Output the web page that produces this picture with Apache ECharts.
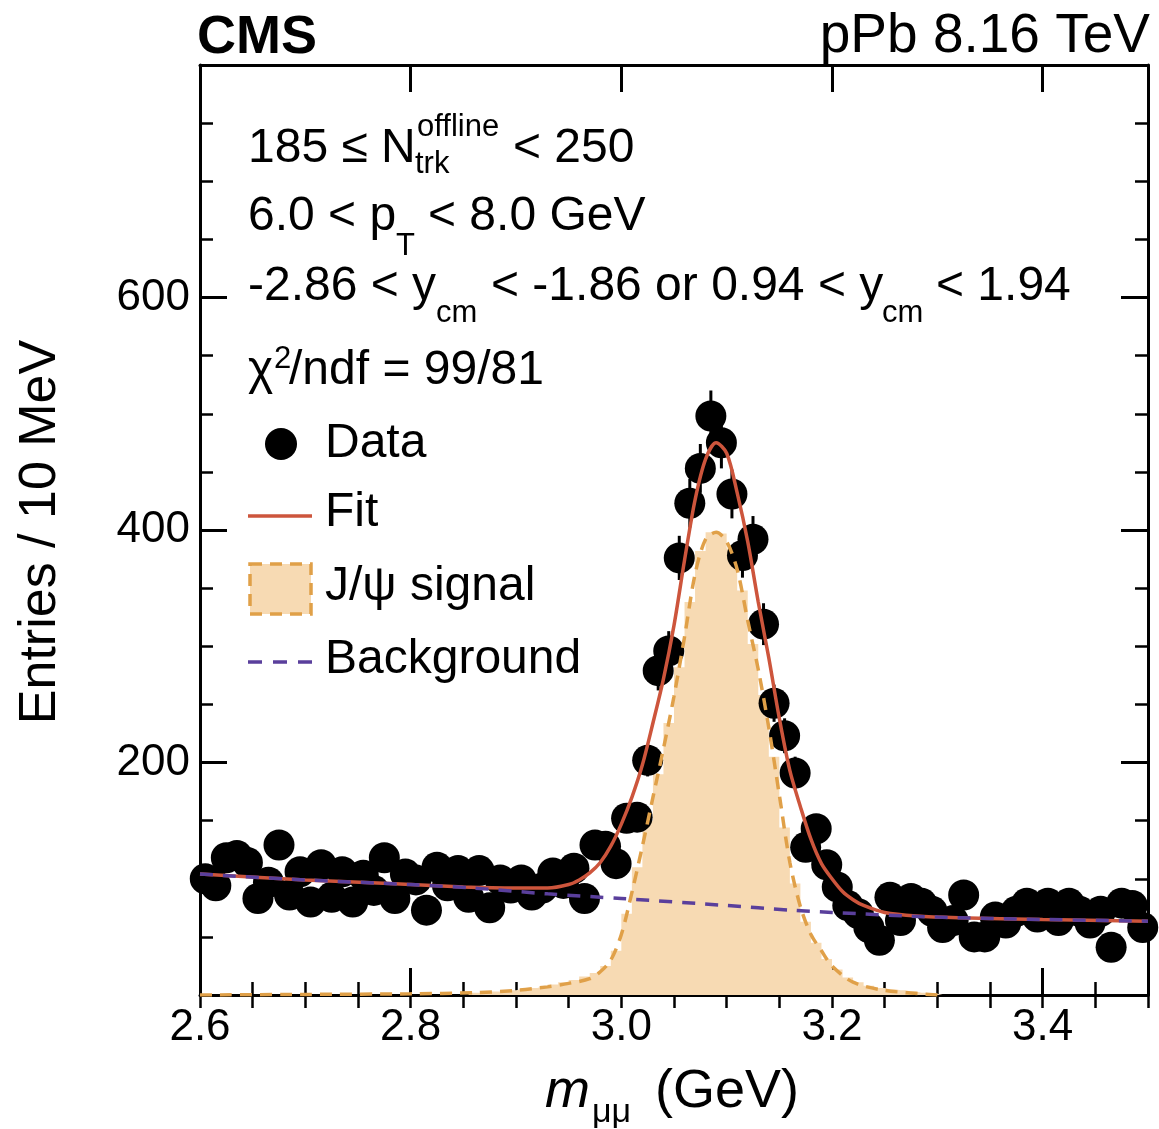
<!DOCTYPE html>
<html>
<head>
<meta charset="utf-8">
<script src="https://cdn.jsdelivr.net/npm/echarts@6/dist/echarts.min.js"></script>
<style>
  html, body { margin: 0; background: #fff; }
  #chart { width: 1159px; height: 1129px; }
</style>
</head>
<body>
<div id="chart"></div>
<script>
// bin centres (GeV), 10 MeV bins
const massBins = [
  2.605, 2.615, 2.625, 2.635, 2.645, 2.655, 2.665, 2.675, 2.685, 2.695,
  2.705, 2.715, 2.725, 2.735, 2.745, 2.755, 2.765, 2.775, 2.785, 2.795,
  2.805, 2.815, 2.825, 2.835, 2.845, 2.855, 2.865, 2.875, 2.885, 2.895,
  2.905, 2.915, 2.925, 2.935, 2.945, 2.955, 2.965, 2.975, 2.985, 2.995,
  3.005, 3.015, 3.025, 3.035, 3.045, 3.055, 3.065, 3.075, 3.085, 3.095,
  3.105, 3.115, 3.125, 3.135, 3.145, 3.155, 3.165, 3.175, 3.185, 3.195,
  3.205, 3.215, 3.225, 3.235, 3.245, 3.255, 3.265, 3.275, 3.285, 3.295,
  3.305, 3.315, 3.325, 3.335, 3.345, 3.355, 3.365, 3.375, 3.385, 3.395,
  3.405, 3.415, 3.425, 3.435, 3.445, 3.455, 3.465, 3.475, 3.485, 3.495
];
const entries = [
  100, 94, 118, 120, 114, 83, 97, 129, 86, 106,
  80, 112, 84, 106, 80, 103, 90, 118, 83, 104,
  99, 73, 110, 94, 107, 84, 107, 75, 99, 92,
  99, 86, 92, 105, 96, 109, 83, 129, 128, 113,
  152, 153, 202, 279, 296, 376, 423, 453, 498, 475,
  431, 378, 392, 319, 251, 223, 191, 127, 143, 112,
  93, 77, 70, 58, 47, 84, 64, 83, 79, 72,
  58, 64, 86, 50, 50, 67, 62, 72, 79, 67,
  79, 64, 79, 72, 62, 72, 41, 79, 77, 58
];
const entryErrors = [
  10, 10, 11, 11, 11, 9, 10, 11, 9, 10,
  9, 11, 9, 10, 9, 10, 9, 11, 9, 10,
  10, 9, 10, 10, 10, 9, 10, 9, 10, 10,
  10, 9, 10, 10, 10, 10, 9, 11, 11, 11,
  12, 12, 14, 17, 17, 19, 21, 21, 22, 22,
  21, 19, 20, 18, 16, 15, 14, 11, 12, 11,
  10, 9, 8, 8, 7, 9, 8, 9, 9, 8,
  8, 8, 9, 7, 7, 8, 8, 8, 9, 8,
  9, 8, 9, 8, 8, 8, 6, 9, 9, 8
];

// J/psi signal per bin (filled histogram)
const signalBinMass = [
  2.855, 2.865, 2.875, 2.885, 2.895, 2.905, 2.915, 2.925, 2.935, 2.945,
  2.955, 2.965, 2.975, 2.985, 2.995, 3.005, 3.015, 3.025, 3.035, 3.045,
  3.055, 3.065, 3.075, 3.085, 3.095, 3.105, 3.115, 3.125, 3.135, 3.145,
  3.155, 3.165, 3.175, 3.185, 3.195, 3.205, 3.215, 3.225, 3.235, 3.245,
  3.255, 3.265, 3.275, 3.285, 3.295, 3.305
];
const signalBinValues = [
  2, 2, 3, 3, 4, 5, 6, 7, 9, 11,
  13, 16, 19, 25, 38, 70, 110, 150, 190, 234,
  282, 338, 382, 398, 397, 384, 348, 302, 258, 205,
  144, 96, 63, 45, 31, 22, 15, 11, 8, 6,
  5, 4, 3, 2, 1, 0
];

// curves [mass, entries]
const signalCurve = [
  [2.60, 0], [2.70, 0.5], [2.80, 1], [2.86, 2], [2.90, 4], [2.93, 7], [2.95, 10],
  [2.97, 14], [2.98, 20], [2.99, 30], [3.00, 52], [3.01, 88], [3.02, 128], [3.03, 170],
  [3.04, 212], [3.05, 257], [3.06, 308], [3.07, 362], [3.08, 392], [3.09, 398],
  [3.10, 390], [3.11, 366], [3.12, 322], [3.13, 280], [3.14, 230], [3.15, 172],
  [3.16, 114], [3.17, 76], [3.18, 52], [3.19, 38], [3.20, 25], [3.22, 11],
  [3.25, 4], [3.30, 0]
];
const fitCurve = [
  [2.60, 104], [2.70, 99], [2.78, 96], [2.85, 93], [2.90, 92], [2.93, 92], [2.95, 95],
  [2.96, 99], [2.97, 105], [2.98, 114], [2.99, 128], [3.00, 147], [3.01, 170],
  [3.02, 198], [3.03, 234], [3.04, 272], [3.05, 318], [3.06, 374], [3.07, 426],
  [3.08, 461], [3.09, 475], [3.10, 466], [3.11, 432], [3.12, 390], [3.13, 338],
  [3.14, 290], [3.15, 238], [3.16, 193], [3.17, 162], [3.18, 134], [3.19, 113],
  [3.20, 100], [3.21, 89], [3.22, 82], [3.23, 77], [3.25, 71], [3.28, 68],
  [3.32, 66.5], [3.40, 65], [3.50, 63.5]
];
const backgroundCurve = [
  [2.60, 104], [2.70, 99], [2.80, 95], [2.86, 92], [2.93, 87], [3.00, 83], [3.10, 77],
  [3.16, 73], [3.20, 71], [3.30, 67], [3.40, 65], [3.50, 63.5]
];

const xTickLabels = ['2.6', '2.8', '3.0', '3.2', '3.4'];
const yTickLabels = ['200', '400', '600'];

const FONT = '"Liberation Sans", Arial, Helvetica, sans-serif';
const RED = '#cd553c';
const ORANGE = '#e0a048';
const FILL = '#f7dab3';
const PURPLE = '#5a3f9c';

const chart = echarts.init(document.getElementById('chart'));

const majorLine = { show: true, onZero: false, lineStyle: { color: '#000', width: 3 } };
const majorTick = { show: true, inside: true, length: 27, lineStyle: { color: '#000', width: 3 } };
const minorTick = { show: true, inside: true, length: 13, lineStyle: { color: '#000', width: 2.5 } };
const noLabel = { show: false };

function xAxisDef(pos, interval, major, label) {
  return {
    type: 'value', min: 2.6, max: 3.5, interval: interval, position: pos,
    axisLine: major ? majorLine : { show: false },
    axisTick: major ? majorTick : minorTick,
    axisLabel: label || noLabel,
    splitLine: { show: false }
  };
}
function yAxisDef(pos, interval, major, label) {
  return {
    type: 'value', min: 0, max: 800, interval: interval, position: pos,
    axisLine: major ? majorLine : { show: false },
    axisTick: major ? majorTick : minorTick,
    axisLabel: label || noLabel,
    splitLine: { show: false }
  };
}

const txt = (text, x, y, size, extra) => ({
  type: 'text', z: 100,
  style: Object.assign({
    text: text, x: x, y: y, fill: '#000',
    fontFamily: FONT, fontSize: size,
    align: 'left', verticalAlign: 'middle'
  }, extra || {})
});

const option = {
  animation: false,
  backgroundColor: '#fff',
  grid: { left: 200, right: 11, top: 65, bottom: 134 },
  xAxis: [
    xAxisDef('bottom', 0.2, true, {
      show: true, margin: 11, color: '#000', fontFamily: FONT, fontSize: 44,
      formatter: v => {
        const k = xTickLabels.indexOf(v.toFixed(1));
        return k >= 0 ? xTickLabels[k] : '';
      }
    }),
    xAxisDef('top', 0.2, true),
    xAxisDef('bottom', 0.05, false),
    xAxisDef('top', 0.05, false)
  ],
  yAxis: [
    yAxisDef('left', 200, true, {
      show: true, margin: 10, color: '#000', fontFamily: FONT, fontSize: 44,
      formatter: v => (yTickLabels.indexOf(String(v)) >= 0 ? String(v) : '')
    }),
    yAxisDef('right', 200, true),
    yAxisDef('left', 50, false),
    yAxisDef('right', 50, false)
  ],
  series: [
    {
      name: 'J/ψ signal fill', type: 'line', xAxisIndex: 0, yAxisIndex: 0,
      data: signalBinMass.map((m, i) => [m, signalBinValues[i]]),
      step: 'middle', symbol: 'none', z: 1,
      lineStyle: { width: 0, opacity: 0 },
      areaStyle: { color: FILL, opacity: 1 }
    },
    {
      name: 'Data errors', type: 'custom', xAxisIndex: 0, yAxisIndex: 0, z: 3,
      data: massBins.map((m, i) => [m, entries[i] - entryErrors[i], entries[i] + entryErrors[i]]),
      encode: { x: 0, y: [1, 2] },
      renderItem: (params, api) => {
        const lo = api.coord([api.value(0), api.value(1)]);
        const hi = api.coord([api.value(0), api.value(2)]);
        return {
          type: 'line',
          shape: { x1: lo[0], y1: lo[1], x2: hi[0], y2: hi[1] },
          style: { stroke: '#000', lineWidth: 3 }
        };
      }
    },
    {
      name: 'Data', type: 'scatter', xAxisIndex: 0, yAxisIndex: 0, z: 3,
      data: massBins.map((m, i) => [m, entries[i]]),
      symbol: 'circle', symbolSize: 31, clip: false,
      itemStyle: { color: '#000', opacity: 1 }
    },
    {
      name: 'J/ψ signal', type: 'line', xAxisIndex: 0, yAxisIndex: 0, z: 4,
      data: signalCurve, smooth: 0.3, symbol: 'none',
      lineStyle: { color: ORANGE, width: 3.5, type: [12, 8] }
    },
    {
      name: 'Fit', type: 'line', xAxisIndex: 0, yAxisIndex: 0, z: 5,
      data: fitCurve, smooth: 0.3, symbol: 'none',
      lineStyle: { color: RED, width: 3.5 }
    },
    {
      name: 'Background', type: 'line', xAxisIndex: 0, yAxisIndex: 0, z: 6,
      data: backgroundCurve, smooth: 0.3, symbol: 'none',
      lineStyle: { color: PURPLE, width: 3.5, type: [13, 10] }
    }
  ],
  graphic: [
    txt('CMS', 197, 38, 54, { fontWeight: 'bold' }),
    txt('pPb 8.16 TeV', 1150, 37, 55, { align: 'right' }),

    txt('185 ≤ N', 248, 149, 48),
    txt('offline', 417, 127, 31),
    txt('trk', 415, 164, 31),
    txt('< 250', 513, 149, 48),

    txt('6.0 < p', 248, 217, 48),
    txt('T', 396, 246, 31),
    txt('< 8.0 GeV', 428, 217, 48),

    txt('-2.86 < y', 248, 287, 48),
    txt('cm', 436, 313, 31),
    txt('< -1.86 or 0.94 < y', 491, 287, 48),
    txt('cm', 882, 313, 31),
    txt('< 1.94', 936, 287, 48),

    txt('χ', 248, 371, 48),
    txt('2', 274, 359, 31),
    txt('/ndf = 99/81', 289, 371, 48),

    // legend
    { type: 'circle', z: 100, shape: { cx: 281, cy: 444, r: 16 }, style: { fill: '#000' } },
    txt('Data', 325, 444, 48),
    { type: 'line', z: 100, shape: { x1: 248, y1: 516, x2: 312, y2: 516 }, style: { stroke: RED, lineWidth: 3.5 } },
    txt('Fit', 325, 513, 48),
    {
      type: 'rect', z: 100, shape: { x: 250, y: 564, width: 61, height: 50 },
      style: { fill: FILL, stroke: ORANGE, lineWidth: 3.5, lineDash: [12, 8] }
    },
    txt('J/ψ signal', 325, 587, 48),
    {
      type: 'line', z: 100, shape: { x1: 248, y1: 662, x2: 312, y2: 662 },
      style: { stroke: PURPLE, lineWidth: 3.5, lineDash: [14, 11] }
    },
    txt('Background', 325, 660, 48),

    // axis titles
    txt('m', 545, 1092, 54, { fontStyle: 'italic' }),
    txt('μμ', 592, 1113, 34),
    txt('(GeV)', 655, 1092, 54),
    {
      type: 'text', z: 100, x: 41, y: 532, rotation: Math.PI / 2,
      style: {
        text: 'Entries / 10 MeV', fill: '#000', fontFamily: FONT, fontSize: 52,
        align: 'center', verticalAlign: 'middle'
      }
    }
  ]
};

chart.setOption(option);
</script>
</body>
</html>
